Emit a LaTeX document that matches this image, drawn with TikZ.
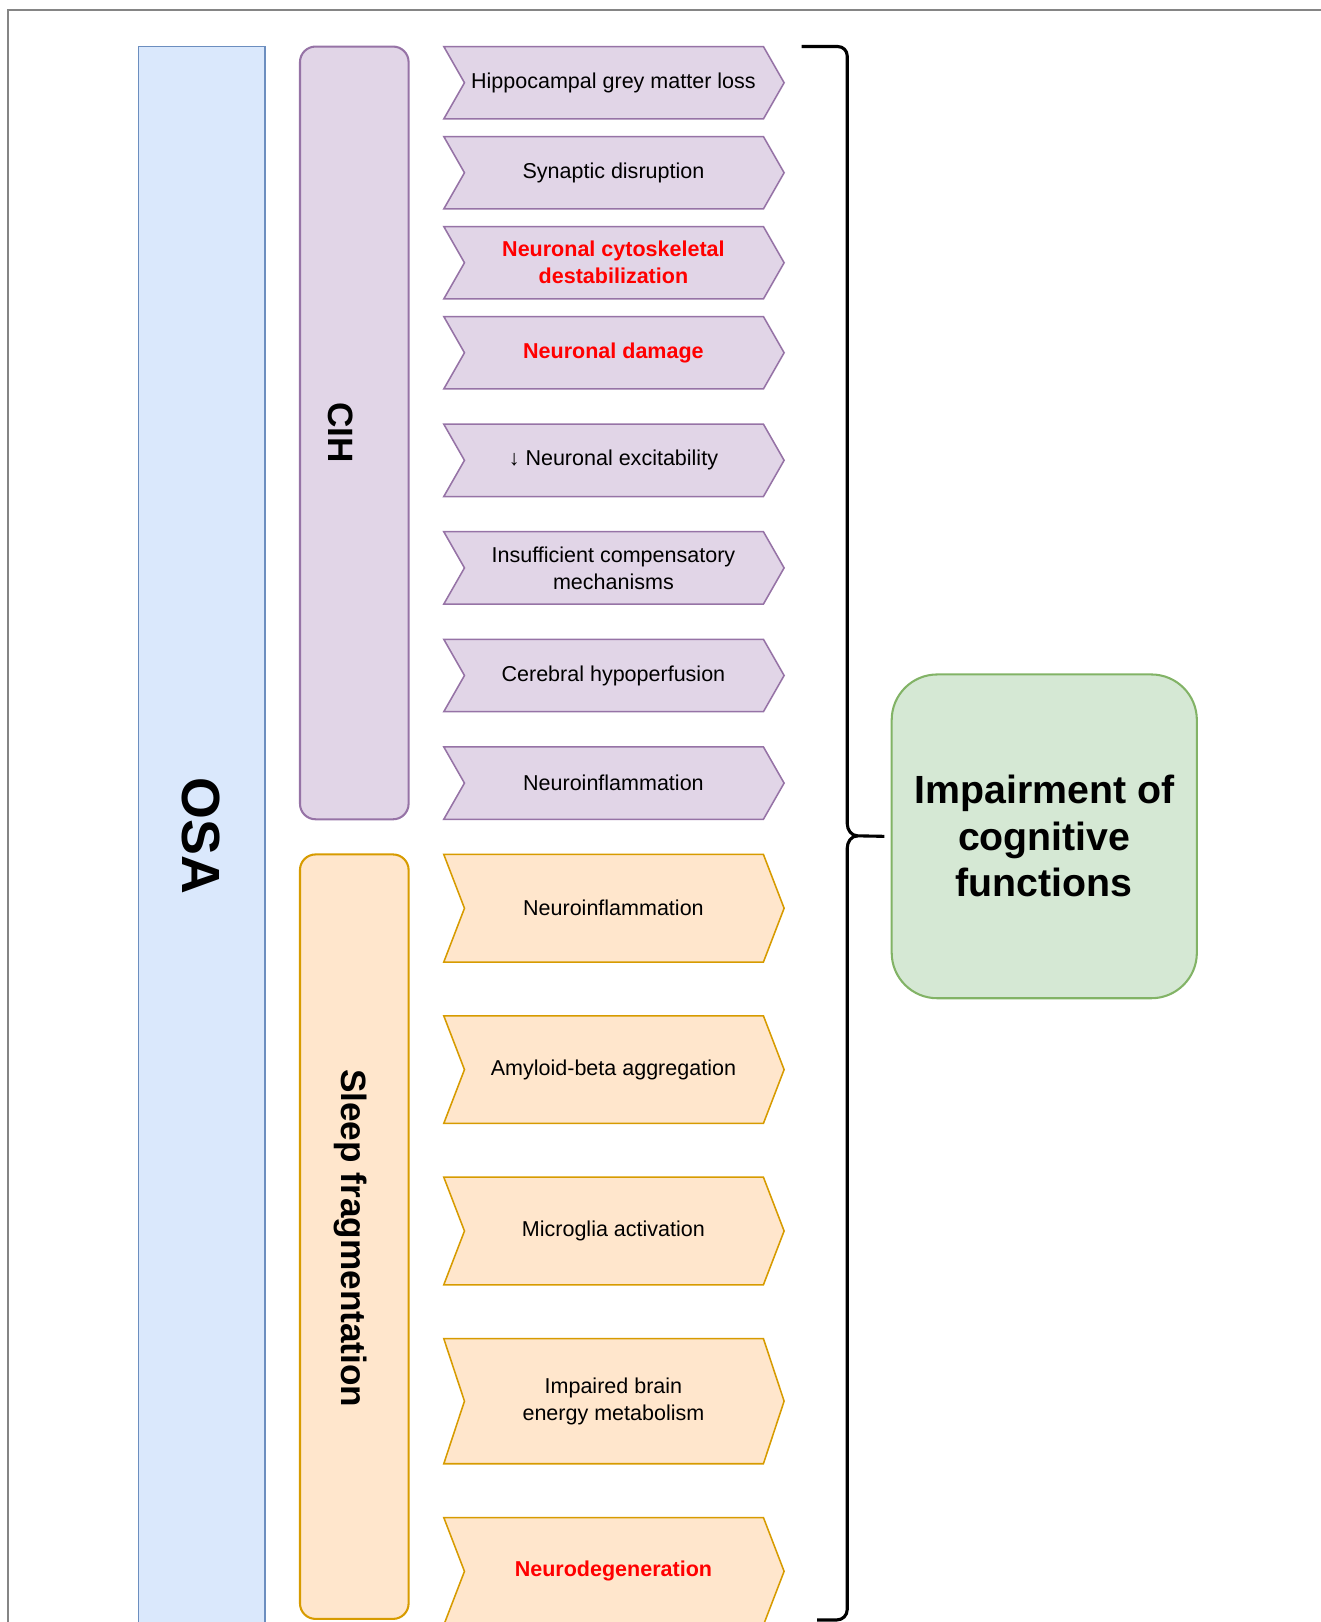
\documentclass[tikz,border=0pt]{standalone}
\usepackage{fontspec}
\setmainfont{Liberation Sans}
\definecolor{osafill}{HTML}{DAE8FC}
\definecolor{osaline}{HTML}{6C8EBF}
\definecolor{cihfill}{HTML}{E1D5E7}
\definecolor{cihline}{HTML}{9673A6}
\definecolor{sffill}{HTML}{FFE6CC}
\definecolor{sfline}{HTML}{D79B00}
\definecolor{cogfill}{HTML}{D5E8D4}
\definecolor{cogline}{HTML}{82B366}
\definecolor{framegrey}{HTML}{858585}
% chevron: name, top, height, colour style, text style, text
\newcommand{\chev}[6]{%
  \draw[#4] (429,#2) -- (738,#2) -- (758,{#2+#3/2}) -- (738,{#2+#3}) -- (429,{#2+#3}) -- (449,{#2+#3/2}) -- cycle;
  \node[#5] (#1) at (593,{#2+#3/2}) {#6};}
\begin{document}
\begin{tikzpicture}[x=0.5pt,y=-0.5pt,
    cihchev/.style={fill=cihfill,draw=cihline,line width=0.75pt,line join=miter},
    sfchev/.style={fill=sffill,draw=sfline,line width=0.75pt,line join=miter},
    chevtxt/.style={align=center,font=\fontsize{10.4}{13}\selectfont,inner sep=0pt},
    alerttxt/.style={chevtxt,text=red,font=\fontsize{10.4}{13}\selectfont\bfseries},
    sidetxt/.style={rotate=-90,font=\fontsize{17}{20}\selectfont\bfseries,inner sep=0pt}]
\clip (0,0) rectangle (1277,1568);
\useasboundingbox (0,0) rectangle (1277,1568);
\draw[framegrey,line width=1pt] (8,1600) -- (8,10) -- (1300,10);

% left columns
\draw[fill=osafill,draw=osaline,line width=0.75pt] (134,45) rectangle (256,1600);
\node[sidetxt,font=\fontsize{26}{30}\selectfont\bfseries] (osa) at (194,808) {OSA};
\draw[fill=cihfill,draw=cihline,line width=1pt,rounded corners=7.5pt] (290,45) rectangle (395,792);
\node[sidetxt] (cih) at (329,418) {CIH};
\draw[fill=sffill,draw=sfline,line width=1pt,rounded corners=7.5pt] (290,826) rectangle (395,1565);
\node[sidetxt] (sf) at (339,1197) {Sleep fragmentation};

% CIH chevrons
\chev{c1}{45}{70}{cihchev}{chevtxt}{Hippocampal grey matter loss}
\chev{c2}{132}{70}{cihchev}{chevtxt}{Synaptic disruption}
\chev{c3}{219}{70}{cihchev}{alerttxt}{Neuronal cytoskeletal\\destabilization}
\chev{c4}{306}{70}{cihchev}{alerttxt}{Neuronal damage}
\chev{c5}{410}{70}{cihchev}{chevtxt}{↓ Neuronal excitability}
\chev{c6}{514}{70}{cihchev}{chevtxt}{Insufficient compensatory\\mechanisms}
\chev{c7}{618}{70}{cihchev}{chevtxt}{Cerebral hypoperfusion}
\chev{c8}{722}{70}{cihchev}{chevtxt}{Neuroinflammation}

% sleep fragmentation chevrons
\chev{s1}{826}{104}{sfchev}{chevtxt}{Neuroinflammation}
\chev{s2}{982}{104}{sfchev}{chevtxt}{Amyloid-beta aggregation}
\chev{s3}{1138}{104}{sfchev}{chevtxt}{Microglia activation}
\chev{s4}{1294}{121}{sfchev}{chevtxt}{Impaired brain\\energy metabolism}
\chev{s5}{1467}{104}{sfchev}{alerttxt}{Neurodegeneration}

% outcome
\node[fill=cogfill,draw=cogline,line width=1pt,rounded corners=22pt,minimum width=147.5pt,minimum height=156.5pt,
  align=center,font=\fontsize{19}{22.5}\selectfont\bfseries] (cog) at (1009.5,808.5) {Impairment of\\cognitive\\functions};

\draw[line width=1.5pt] (775,45) -- (810,45) to[out=0,in=90] (819,54) -- (819,796) to[out=-90,in=180] (829,808)
  -- ([xshift=-3pt]cog.west);
\draw[line width=1.5pt] (829,808) to[out=180,in=90] (819,820) -- (819,1556) to[out=-90,in=0] (809,1566) -- (790,1566);
\end{tikzpicture}
\end{document}
